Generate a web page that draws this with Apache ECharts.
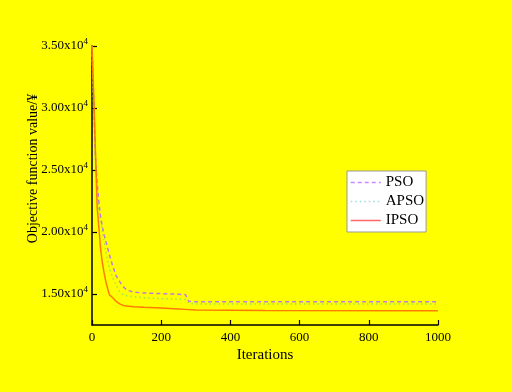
<!DOCTYPE html>
<html><head><meta charset="utf-8">
<script src="https://cdn.jsdelivr.net/npm/echarts@6/dist/echarts.min.js"></script>
<style>html,body{margin:0;padding:0;background:#ffff00}#c{width:512px;height:392px}</style>
</head><body><div id="c"></div>
<script>
const iterations = [0,5,10,15,20,25,30,35,40,50,60,70,80,90,100,120,150,200,250,270,280,300,500,1000];
const pso  = [35000,30500,26000,23900,22400,21200,20400,19800,19250,18200,17250,16450,16000,15600,15320,15150,15080,15030,14980,14950,14400,14380,14380,14380];
const apso = [35000,29500,25500,22900,21800,20900,20100,19300,18400,17100,16300,15700,15200,14950,14850,14780,14700,14620,14580,14560,14250,14200,14200,14200];
const ipso = [35000,31000,26500,22000,20300,18600,17500,16700,16000,14950,14700,14400,14200,14080,14030,13980,13930,13880,13800,13760,13740,13700,13660,13650];
const seriesNames = ['PSO','APSO','IPSO'];
const yTicks = [15000,20000,25000,30000,35000];

const font = 'Liberation Serif';
const pairs = arr => iterations.map((x,i)=>[x,arr[i]]);
const chart = echarts.init(document.getElementById('c'));
chart.setOption({
  backgroundColor:'#ffff00',
  animation:false,
  grid:{left:92,right:74,top:46,bottom:67},
  legend:{
    orient:'vertical', left:347, top:171,
    backgroundColor:'#ffffff', borderColor:'#999999', borderWidth:1,
    padding:[4,2,4,3], itemWidth:30, itemHeight:12, itemGap:4,
    itemStyle:{opacity:0},
    textStyle:{fontFamily:font,fontSize:15,color:'#000'},
    data:[
      {name:'PSO', lineStyle:{color:'#cc88ff',type:[4,3],width:1.5}},
      {name:'APSO', lineStyle:{color:'#99dddd',type:[1.5,3],width:1.5}},
      {name:'IPSO', lineStyle:{color:'#ff6666',type:'solid',width:1.5}}
    ]
  },
  xAxis:{
    type:'value', min:0, max:1000, interval:200,
    name:'Iterations', nameLocation:'middle', nameGap:23, nameMoveOverlap:false,
    nameTextStyle:{fontFamily:font,fontSize:15,color:'#000'},
    axisLine:{lineStyle:{color:'#000',width:1.5}},
    axisTick:{inside:true,length:5,lineStyle:{color:'#000',width:1.2}},
    axisLabel:{fontFamily:font,fontSize:13,color:'#000',margin:6,formatter:v=>String(v)},
    splitLine:{show:false}
  },
  yAxis:{
    type:'value', min:12500, max:35000,
    name:'Objective function value/¥', nameLocation:'middle', nameGap:52, nameMoveOverlap:false,
    nameTextStyle:{fontFamily:font,fontSize:14,color:'#000',padding:[0,0,0,34]},
    axisLine:{show:true,lineStyle:{color:'#000',width:1.5}},
    axisTick:{show:true,inside:true,length:5,customValues:yTicks,lineStyle:{color:'#000',width:1.2}},
    axisLabel:{
      customValues:yTicks, margin:4,
      formatter:v=>'{a|'+(v/10000).toFixed(2)+'x10}{b|4}',
      rich:{a:{fontFamily:font,fontSize:13,color:'#000'},b:{fontFamily:font,fontSize:9,color:'#000',verticalAlign:'bottom',padding:[0,0,8,0]}}
    },
    splitLine:{show:false}
  },
  series:[
    {name:seriesNames[0],type:'line',data:pairs(pso),symbol:'none',z:3,
     lineStyle:{color:'#c07ae0',type:[4,3],width:1.5},itemStyle:{color:'#c07ae0'}},
    {name:seriesNames[1],type:'line',data:pairs(apso),symbol:'none',z:2,
     lineStyle:{color:'#99e84c',type:[1.5,3],width:1.5},itemStyle:{color:'#99e84c'}},
    {name:seriesNames[2],type:'line',data:pairs(ipso),symbol:'none',z:4,
     lineStyle:{color:'#ff7a00',width:1.5},itemStyle:{color:'#ff7a00'}}
  ]
});
</script></body></html>
